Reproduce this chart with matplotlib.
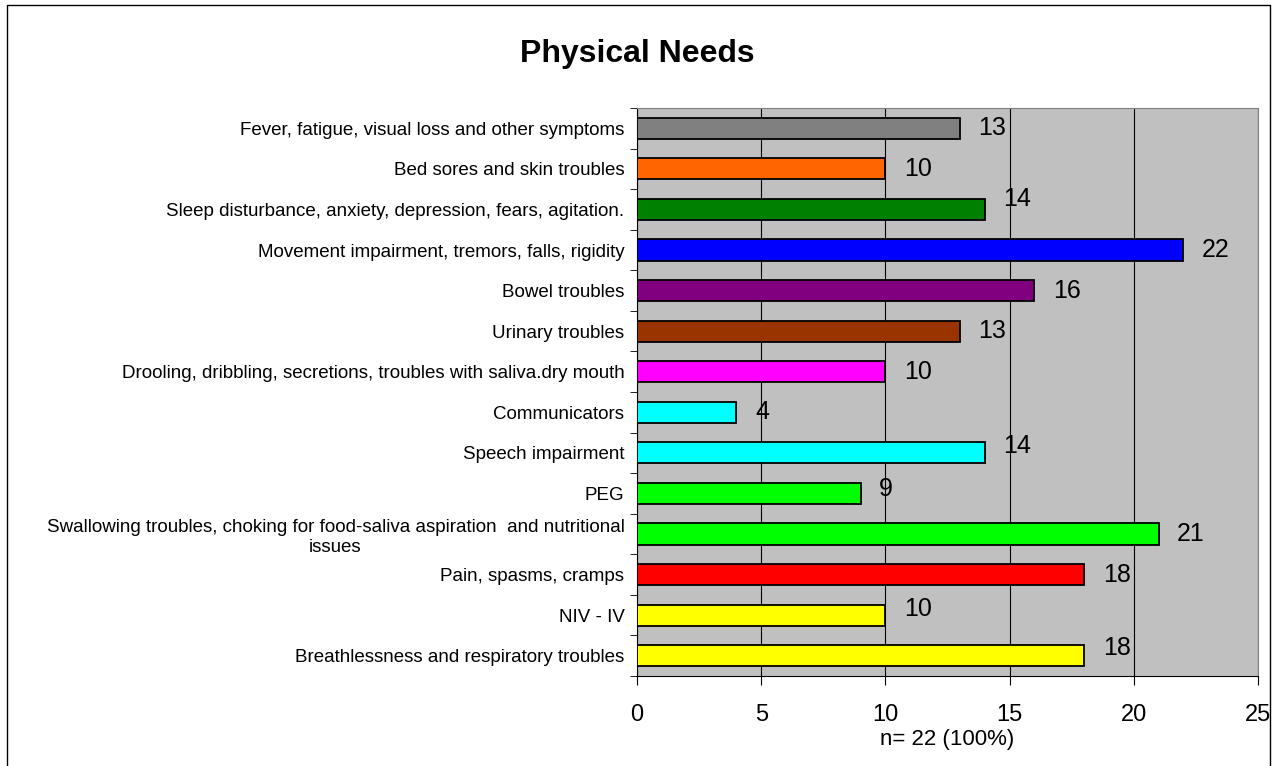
import matplotlib
matplotlib.use("Agg")
import matplotlib.pyplot as plt
from matplotlib.lines import Line2D

plt.rcParams['font.family'] = ['Liberation Sans', 'DejaVu Sans']

# data, bottom to top as drawn
categories = [
    "Breathlessness and respiratory troubles",
    "NIV - IV",
    "Pain, spasms, cramps",
    "Swallowing troubles, choking for food-saliva aspiration  and nutritional\nissues",
    "PEG",
    "Speech impairment",
    "Communicators",
    "Drooling, dribbling, secretions, troubles with saliva.dry mouth",
    "Urinary troubles",
    "Bowel troubles",
    "Movement impairment, tremors, falls, rigidity",
    "Sleep disturbance, anxiety, depression, fears, agitation.",
    "Bed sores and skin troubles",
    "Fever, fatigue, visual loss and other symptoms",
]
counts = [18, 10, 18, 21, 9, 14, 4, 10, 13, 16, 22, 14, 10, 13]
colors = ["#FFFF00", "#FFFF00", "#FF0000", "#00FF00", "#00FF00", "#00FFFF", "#00FFFF",
          "#FF00FF", "#993300", "#800080", "#0000FF", "#008000", "#FF6600", "#808080"]

# small vertical nudges of the value labels (Excel placement)
nudge = [0.2, 0.15, 0, 0, 0.12, 0.17, 0, 0, 0, 0, 0, 0.25, 0, 0]

fig = plt.figure(figsize=(12.74, 7.66), dpi=100)
ax = fig.add_axes([0.5, 0.1175, 0.4874, 0.7415])
ax.set_facecolor("#C0C0C0")

y = range(len(categories))
ax.barh(y, counts, height=0.52, color=colors, edgecolor="black", linewidth=1.3, zorder=3)

for i, v in enumerate(counts):
    ax.text(v + 0.75, i + nudge[i], str(v), va="center", ha="left", fontsize=18, zorder=4)

ax.set_xlim(0, 25)
ax.set_ylim(-0.5, len(categories) - 0.5)
ax.set_xticks([0, 5, 10, 15, 20, 25])
ax.tick_params(axis="x", labelsize=17, direction="out", length=6.5, pad=14)
ax.set_yticks(y)
ax.set_yticklabels(categories, fontsize=13.5, multialignment="center")
ax.set_yticks([i - 0.5 for i in range(len(categories) + 1)], minor=True)
ax.tick_params(axis="y", which="major", length=0, pad=9)
ax.tick_params(axis="y", which="minor", length=5, direction="out")
ax.xaxis.grid(True, color="black", linewidth=0.8, zorder=1)
ax.set_axisbelow(True)

for s in ["top", "right"]:
    ax.spines[s].set_color("#808080")
for s in ["left", "bottom"]:
    ax.spines[s].set_color("black")

ax.set_xlabel("n= 22 (100%)", fontsize=16, labelpad=2)
fig.text(0.5, 0.919, "Physical Needs", ha="center", va="baseline", fontsize=23, fontweight="bold")

# outer chart border
bx0, bx1, by1 = 7 / 1274, 1270 / 1274, 1 - 5 / 766
fig.add_artist(Line2D([bx0, bx0, bx1, bx1], [-0.01, by1, by1, -0.01],
                      transform=fig.transFigure, color="black", linewidth=1))

fig.savefig("out.png", dpi=100)
